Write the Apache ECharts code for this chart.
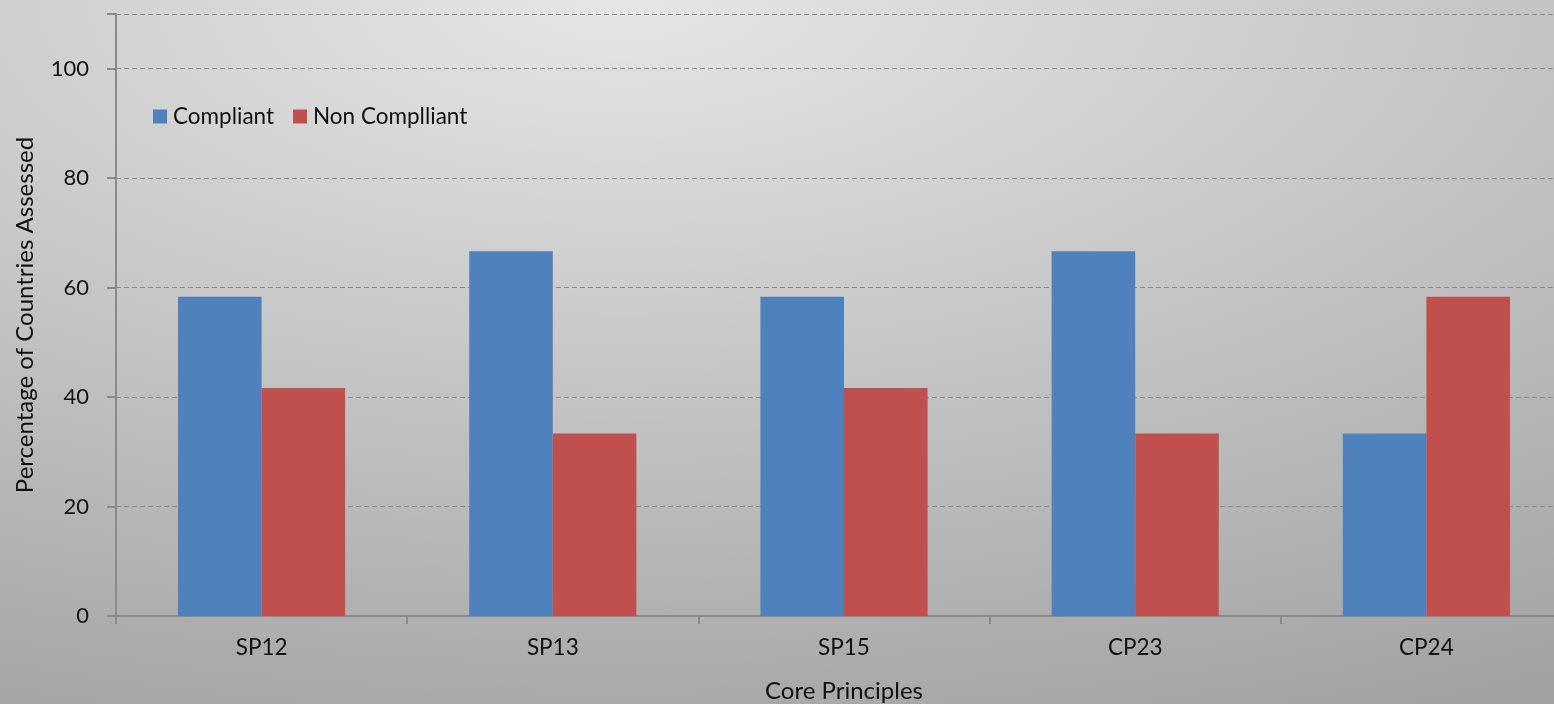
<!DOCTYPE html>
<html>
<head>
<meta charset="utf-8">
<style>
  html, body { margin: 0; padding: 0; width: 1554px; height: 704px; overflow: hidden; }
  #chart {
    width: 1554px; height: 704px;
    background: radial-gradient(ellipse 2400px 1035px at 40% 0%, #e6e6e6 0%, #9a9a9a 85%, #989898 100%);
  }
</style>
<script src="https://cdn.jsdelivr.net/npm/echarts@6/dist/echarts.min.js"></script>
</head>
<body>
<div id="chart"></div>
<script>
// Core principles assessed and share of countries per compliance status (%)
const categories = ['SP12', 'SP13', 'SP15', 'CP23', 'CP24'];
const compliant = [58.33, 66.67, 58.33, 66.67, 33.33];
const nonCompliant = [41.67, 33.33, 41.67, 33.33, 58.33];
const seriesNames = ['Compliant', 'Non Complliant'];
const yTicks = [0, 20, 40, 60, 80, 100];

const FONT = 'Lato, "Open Sans", sans-serif';
const AXIS_GREY = '#8a8a8a';
const chart = echarts.init(document.getElementById('chart'));

chart.setOption({
  backgroundColor: 'transparent',
  animation: false,
  textStyle: { fontFamily: FONT },
  legend: {
    left: 148, top: 100,
    itemWidth: 14, itemHeight: 14, itemGap: 19,
    icon: 'rect',
    textStyle: { fontFamily: FONT, fontSize: 22.5, color: '#111', padding: [0, 0, 0, 1] },
    data: seriesNames
  },
  // plot runs slightly past the right edge of the page
  grid: {
    left: 116, top: 14, width: 1456, bottom: 88,
    containLabel: false, outerBoundsMode: 'none'
  },
  xAxis: {
    type: 'category',
    data: categories,
    name: 'Core Principles',
    nameLocation: 'middle',
    nameGap: 63,
    nameTextStyle: { fontFamily: FONT, fontSize: 24, color: '#111' },
    axisLine: { lineStyle: { color: AXIS_GREY, width: 2 } },
    axisTick: { show: true, length: 8, lineStyle: { color: AXIS_GREY, width: 2 } },
    axisLabel: { fontFamily: FONT, fontSize: 22.5, color: '#111', margin: 20 }
  },
  yAxis: {
    type: 'value',
    min: 0, max: 110, interval: 20,
    name: 'Percentage of Countries Assessed',
    nameLocation: 'middle',
    nameGap: 79,
    nameTextStyle: { fontFamily: FONT, fontSize: 24, color: '#111' },
    axisLine: { show: true, lineStyle: { color: AXIS_GREY, width: 2 } },
    axisTick: { show: true, length: 9, lineStyle: { color: AXIS_GREY, width: 2 } },
    axisLabel: {
      fontFamily: FONT, fontSize: 22, color: '#111', margin: 27,
      formatter: v => (yTicks.indexOf(v) >= 0 ? String(v) : '')
    },
    splitLine: { show: true, lineStyle: { color: AXIS_GREY, type: [5, 3], width: 1.2 } }
  },
  series: [
    {
      name: seriesNames[0], type: 'bar', data: compliant,
      barWidth: '28.7%', barGap: '0%',
      itemStyle: { color: '#4f81bd' }
    },
    {
      name: seriesNames[1], type: 'bar', data: nonCompliant,
      barWidth: '28.7%', barGap: '0%',
      itemStyle: { color: '#c0504d' }
    }
  ]
});
</script>
</body>
</html>
